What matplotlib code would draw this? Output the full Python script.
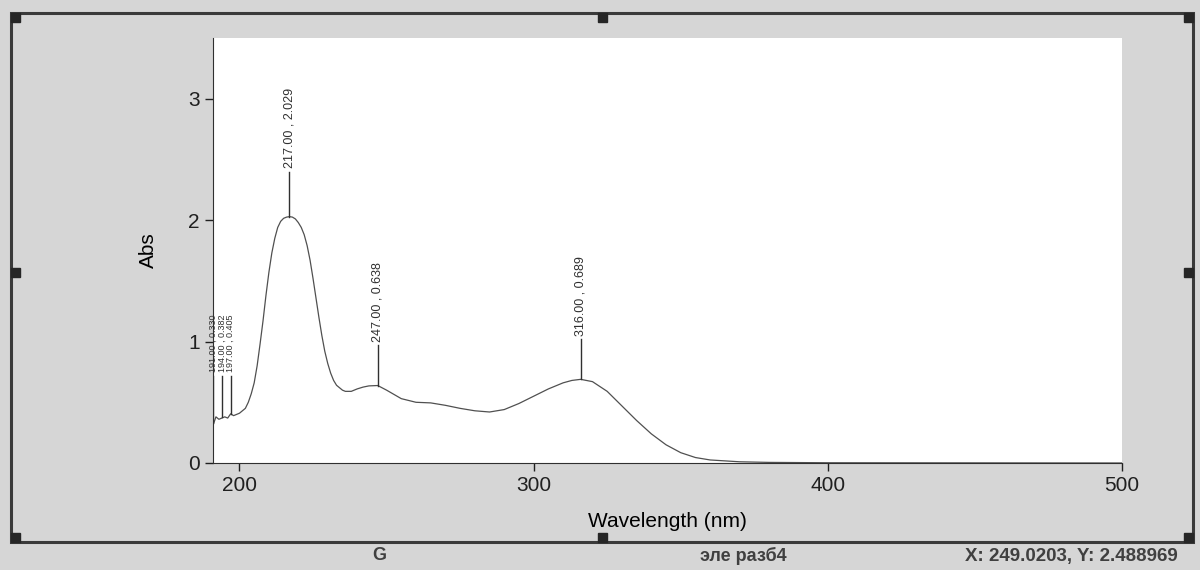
import numpy as np
import matplotlib.pyplot as plt
from matplotlib.patches import Rectangle

plt.rcParams['font.family'] = ['Liberation Sans', 'DejaVu Sans']

# spectrum
wl = [191, 192, 193, 194, 195, 196, 197, 198, 200, 202, 203, 204, 205, 206, 207, 208,
      209, 210, 211, 212, 213, 214, 215, 216, 217, 218, 219, 220, 221, 222, 223, 224,
      225, 226, 227, 228, 229, 230, 231, 232, 233, 235, 236, 238, 240, 242, 244, 247,
      250, 255, 260, 265, 270, 275, 280, 285, 290, 295, 300, 305, 310, 313, 316, 320,
      325, 330, 335, 340, 345, 350, 355, 360, 370, 380, 400, 450, 500]
absb = [0.31, 0.38, 0.36, 0.37, 0.38, 0.37, 0.405, 0.39, 0.41, 0.45, 0.50, 0.57, 0.66,
        0.80, 0.98, 1.17, 1.38, 1.57, 1.73, 1.85, 1.94, 1.99, 2.015, 2.025, 2.029, 2.025,
        2.01, 1.98, 1.94, 1.88, 1.79, 1.67, 1.52, 1.36, 1.20, 1.05, 0.92, 0.82, 0.74,
        0.68, 0.64, 0.60, 0.59, 0.59, 0.61, 0.625, 0.635, 0.638, 0.60, 0.53, 0.50,
        0.495, 0.475, 0.45, 0.43, 0.42, 0.44, 0.49, 0.55, 0.61, 0.66, 0.68, 0.689, 0.67,
        0.59, 0.47, 0.35, 0.24, 0.15, 0.085, 0.045, 0.025, 0.01, 0.005, 0.002, 0.001, 0.0]

peak_wl = [191.0, 194.0, 197.0, 217.0, 247.0, 316.0]
peak_abs = [0.330, 0.382, 0.405, 2.029, 0.638, 0.689]
peak_top = [0.72, 0.72, 0.72, 2.40, 0.97, 1.02]
peak_fs = [6.5, 6.5, 6.5, 9, 9, 9]

tick_x = [200, 300, 400, 500]
tick_y = [0, 1, 2, 3]

W, H = 1200, 570
fig = plt.figure(figsize=(12, 5.7), dpi=100)
fig.patch.set_facecolor('#d6d6d6')


def px_rect(x0, y0, x1, y1, **kw):
    # rectangle given in pixel coords from the top-left corner
    return Rectangle((x0 / W, 1 - y1 / H), (x1 - x0) / W, (y1 - y0) / H,
                     transform=fig.transFigure, **kw)


# window frame with its resize handles
fig.add_artist(px_rect(11, 13, 1193, 542, fill=False, edgecolor='#3a3a3a', linewidth=2.2))
hw = 9
for hx in [11, 598, 1184]:
    for hy in [13, 268, 533]:
        if hx == 598 and hy == 268:
            continue
        fig.add_artist(px_rect(hx, hy, hx + hw, hy + hw, color='#262626'))

ax = fig.add_axes([213 / W, 1 - 463 / H, (1122 - 213) / W, (463 - 38) / H])
ax.set_facecolor('white')
ax.plot(wl, absb, color='#505050', linewidth=0.9)

for w, a, t, fs in zip(peak_wl, peak_abs, peak_top, peak_fs):
    ax.plot([w, w], [a, t], color='#303030', linewidth=1.0)
    ax.text(w, t + 0.03, f"{w:.2f} , {a:.3f}", rotation=90, ha='center', va='bottom',
            fontsize=fs, color='#303030')

ax.set_xlim(191, 500)
ax.set_ylim(0, 3.5)
ax.set_xticks(tick_x)
ax.set_yticks(tick_y)
ax.tick_params(labelsize=15, length=6, width=1, colors='#202020')
ax.set_xlabel("Wavelength (nm)", fontsize=15, labelpad=12)
ax.set_ylabel("Abs", fontsize=15, labelpad=22)
for s in ['top', 'right']:
    ax.spines[s].set_visible(False)
for s in ['left', 'bottom']:
    ax.spines[s].set_color('#303030')

fig.text(372 / W, 1 - 556 / H, "G", fontsize=13, fontweight='bold', color='#404040', va='center')
fig.text(700 / W, 1 - 556 / H, "эле разб4", fontsize=13, fontweight='bold', color='#404040', va='center')
fig.text(965 / W, 1 - 556 / H, "X: 249.0203, Y: 2.488969", fontsize=13.5, fontweight='bold',
         color='#404040', va='center')

fig.savefig("out.png", dpi=100, facecolor=fig.get_facecolor())
